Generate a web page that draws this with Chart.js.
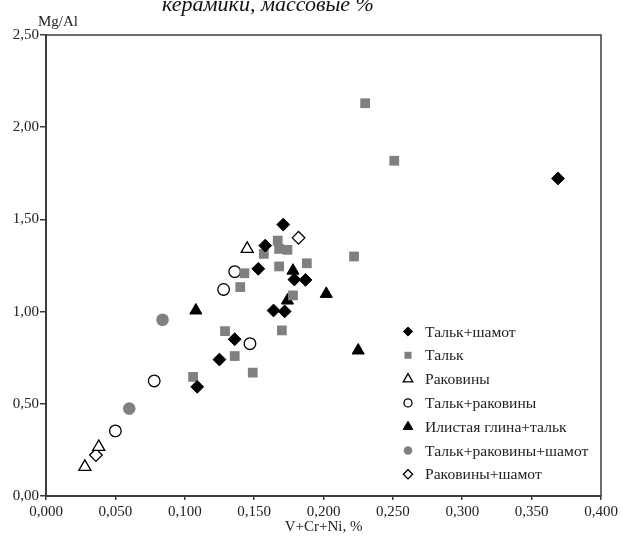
<!DOCTYPE html>
<html>
<head>
<meta charset="utf-8">
<script src="https://cdn.jsdelivr.net/npm/chart.js@4/dist/chart.umd.min.js"></script>
<style>
  html, body { margin: 0; padding: 0; background: #fff; }
  #wrap { width: 623px; height: 540px; }
</style>
</head>
<body>
<div id="wrap"><canvas id="chart" width="623" height="540"></canvas></div>
<script>
// values: [V+Cr+Ni %, Mg/Al]
const talkShamot = [[0.109, 0.592], [0.125, 0.740], [0.136, 0.850], [0.164, 1.006], [0.172, 1.001],
  [0.179, 1.174], [0.187, 1.172], [0.153, 1.232], [0.158, 1.358], [0.171, 1.472], [0.369, 1.722]];
const talk = [[0.106, 0.646], [0.129, 0.894], [0.136, 0.759], [0.149, 0.669], [0.170, 0.898],
  [0.140, 1.133], [0.143, 1.208], [0.168, 1.245], [0.178, 1.088], [0.188, 1.262], [0.157, 1.313],
  [0.167, 1.385], [0.168, 1.340], [0.174, 1.335], [0.222, 1.299], [0.230, 2.130], [0.251, 1.818]];
const shells = [[0.028, 0.158], [0.038, 0.266], [0.145, 1.340]];
const talkShells = [[0.050, 0.353], [0.078, 0.624], [0.128, 1.120], [0.136, 1.217], [0.147, 0.826]];
const siltClayTalk = [[0.108, 1.006], [0.174, 1.060], [0.178, 1.222], [0.202, 1.096], [0.225, 0.789]];
const talkShellsShamot = [[0.060, 0.474], [0.084, 0.956]];
const shellsShamot = [[0.036, 0.222], [0.182, 1.400]];

const seriesNames = ['Тальк+шамот', 'Тальк', 'Раковины', 'Тальк+раковины',
  'Илистая глина+тальк', 'Тальк+раковины+шамот', 'Раковины+шамот'];
const seriesData = [talkShamot, talk, shells, talkShells, siltClayTalk, talkShellsShamot, shellsShamot];

const xTickLabels = ['0,000', '0,050', '0,100', '0,150', '0,200', '0,250', '0,300', '0,350', '0,400'];
const yTickLabels = ['0,00', '0,50', '1,00', '1,50', '2,00', '2,50'];

const GRAY = '#808080';
const AXIS = '#3c3c3c';
const FONT = "'Liberation Serif', 'DejaVu Serif', serif";

// marker look per series
const styles = [
  { pointStyle: 'rectRot', radius: 6.4, bg: '#000', border: '#000', bw: 1, legendRadius: 4.6 },
  { pointStyle: 'rect', radius: 6.9, bg: GRAY, border: GRAY, bw: 0, legendRadius: 5 },
  { pointStyle: 'triangle', radius: 7, bg: '#fff', border: '#000', bw: 1.3, legendRadius: 5.5 },
  { pointStyle: 'circle', radius: 5.8, bg: '#fff', border: '#000', bw: 1.3, legendRadius: 4 },
  { pointStyle: 'triangle', radius: 7, bg: '#000', border: '#000', bw: 1, legendRadius: 5.5 },
  { pointStyle: 'circle', radius: 6.3, bg: GRAY, border: GRAY, bw: 0, legendRadius: 4.3 },
  { pointStyle: 'rectRot', radius: 6.3, bg: '#fff', border: '#000', bw: 1.3, legendRadius: 4.6 }
];

const datasets = seriesNames.map((name, i) => ({
  label: name,
  data: seriesData[i].map(p => ({ x: p[0], y: p[1] })),
  pointStyle: styles[i].pointStyle,
  pointRadius: styles[i].radius,
  pointBackgroundColor: styles[i].bg,
  pointBorderColor: styles[i].border,
  pointBorderWidth: styles[i].bw,
  showLine: false
}));

// box round the plot area
const frame = {
  id: 'frame',
  beforeDatasetsDraw(chart) {
    const { ctx, chartArea: a } = chart;
    ctx.save();
    ctx.strokeStyle = AXIS;
    ctx.lineWidth = 1.5;
    ctx.strokeRect(a.left, a.top, a.right - a.left, a.bottom - a.top);
    ctx.restore();
  }
};

// legend inside the plot + loose texts
const extras = {
  id: 'extras',
  afterDraw(chart) {
    const ctx = chart.ctx;
    ctx.save();
    ctx.fillStyle = '#111';
    ctx.font = 'italic 22px ' + FONT;
    ctx.textAlign = 'center';
    ctx.textBaseline = 'alphabetic';
    ctx.fillText('керамики, массовые %', 268, 11);

    ctx.font = '15px ' + FONT;
    ctx.textAlign = 'left';
    ctx.fillStyle = '#222';
    ctx.fillText('Mg/Al', 38, 26);

    ctx.font = '15.6px ' + FONT;
    ctx.textBaseline = 'middle';
    seriesNames.forEach((name, i) => {
      const y = 331.5 + i * 23.8;
      const s = styles[i];
      ctx.fillStyle = s.bg;
      ctx.strokeStyle = s.border;
      ctx.lineWidth = s.bw;
      Chart.helpers.drawPoint(ctx, { pointStyle: s.pointStyle, radius: s.legendRadius, rotation: 0, borderWidth: s.bw }, 408, y);
      ctx.fillStyle = '#222';
      ctx.fillText(name, 425, y + 1);
    });
    ctx.restore();
  }
};

new Chart(document.getElementById('chart').getContext('2d'), {
  type: 'scatter',
  data: { datasets },
  options: {
    responsive: false,
    animation: false,
    devicePixelRatio: 1,
    layout: { padding: { left: 0, right: 22, top: 35, bottom: 0 } },
    plugins: { legend: { display: false }, tooltip: { enabled: false } },
    scales: {
      x: {
        type: 'linear', min: 0, max: 0.4,
        afterFit: s => { s.height = 44; },
        ticks: {
          stepSize: 0.05, padding: 3, color: '#222', maxRotation: 0,
          font: { family: FONT, size: 15 },
          callback: (v, i) => xTickLabels[i]
        },
        grid: { drawOnChartArea: false, drawTicks: true, tickLength: 4, color: AXIS, lineWidth: 1.5 },
        border: { display: true, color: AXIS, width: 2 },
        title: { display: true, text: 'V+Cr+Ni, %', color: '#222', font: { family: FONT, size: 15 }, padding: { top: 0, bottom: 4 } }
      },
      y: {
        type: 'linear', min: 0, max: 2.5,
        afterFit: s => { s.width = 46; },
        ticks: {
          stepSize: 0.5, padding: 1, color: '#222',
          font: { family: FONT, size: 15 },
          callback: (v, i) => yTickLabels[i]
        },
        grid: { drawOnChartArea: false, drawTicks: true, tickLength: 6, color: AXIS, lineWidth: 1.5 },
        border: { display: true, color: AXIS, width: 2 }
      }
    }
  },
  plugins: [frame, extras]
});
</script>
</body>
</html>
